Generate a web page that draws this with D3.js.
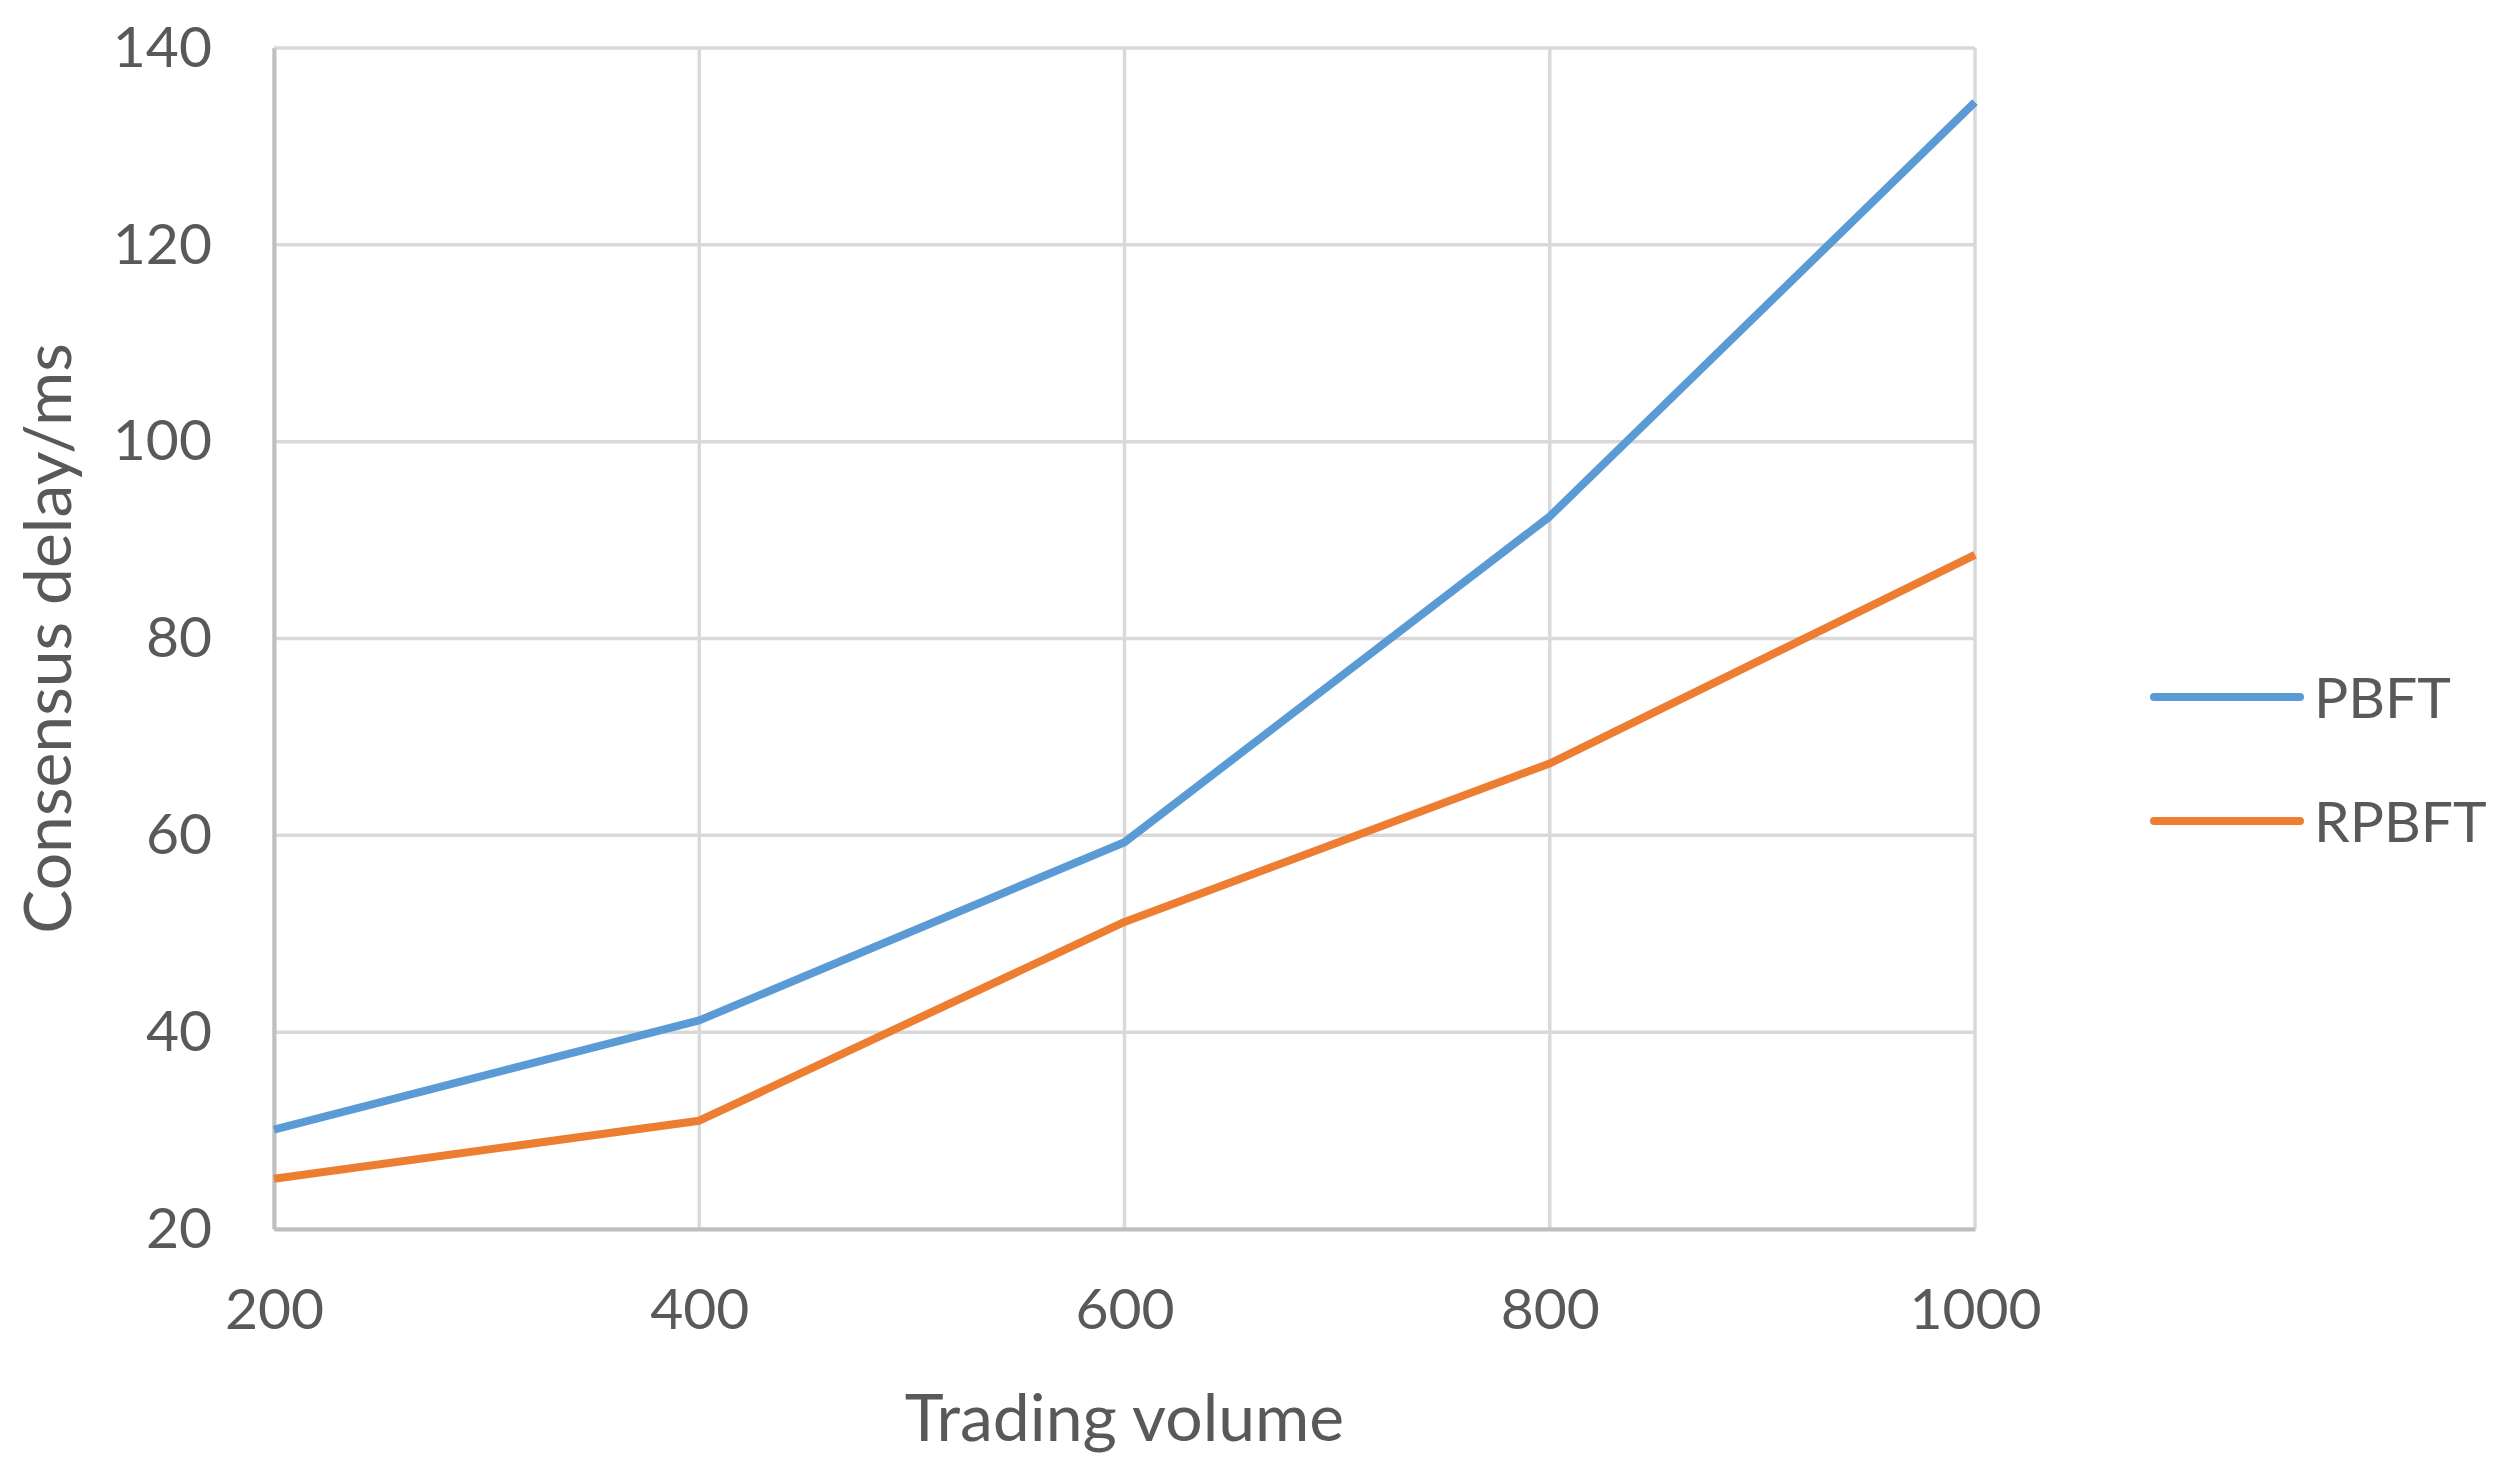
<!DOCTYPE html>
<html>
<head>
<meta charset="utf-8">
<script src="https://cdn.jsdelivr.net/npm/d3@7"></script>
<style>
  body { margin: 0; background: #fff; }
  text { font-family: Lato, "Open Sans", sans-serif; fill: #595959; }
</style>
</head>
<body>
<svg id="chart"></svg>
<script>
// Data
const volumes = [200, 400, 600, 800, 1000];
const pbft = [30.1, 41.2, 59.3, 92.4, 134.5];
const rpbft = [25.1, 31.0, 51.2, 67.3, 88.5];
const yTicks = [20, 40, 60, 80, 100, 120, 140];
const seriesNames = ["PBFT", "RPBFT"];
const seriesColors = ["#5B9BD5", "#ED7D31"];

const width = 2496;
const height = 1467;
const margin = { top: 48, right: 521, bottom: 238, left: 274 };

const svg = d3.select("#chart")
  .attr("width", width)
  .attr("height", height);

const xScale = d3.scaleLinear()
  .domain([200, 1000])
  .range([margin.left, width - margin.right]);

const yScale = d3.scaleLinear()
  .domain([20, 140])
  .range([height - margin.bottom, margin.top]);

// Gridlines
svg.append("g")
  .selectAll("line.hgrid")
  .data(yTicks)
  .join("line")
  .attr("x1", margin.left)
  .attr("x2", width - margin.right)
  .attr("y1", d => yScale(d))
  .attr("y2", d => yScale(d))
  .attr("stroke", "#d9d9d9")
  .attr("stroke-width", 3.5);

svg.append("g")
  .selectAll("line.vgrid")
  .data(volumes)
  .join("line")
  .attr("x1", d => xScale(d))
  .attr("x2", d => xScale(d))
  .attr("y1", margin.top)
  .attr("y2", height - margin.bottom)
  .attr("stroke", "#d9d9d9")
  .attr("stroke-width", 3.5);

// Axes
const xAxis = d3.axisBottom(xScale).tickValues(volumes).tickFormat(d3.format("d")).tickSize(0).tickPadding(60);
const yAxis = d3.axisLeft(yScale).tickValues(yTicks).tickSize(0).tickPadding(62);

const gx = svg.append("g")
  .attr("transform", `translate(0, ${height - margin.bottom})`)
  .call(xAxis);
gx.select(".domain").attr("stroke", "#bfbfbf").attr("stroke-width", 4);
gx.selectAll("text").style("font-size", "57px").attr("fill", "#595959");

const gy = svg.append("g")
  .attr("transform", `translate(${margin.left}, 0)`)
  .call(yAxis);
gy.select(".domain").attr("stroke", "#bfbfbf").attr("stroke-width", 4);
gy.selectAll("text").style("font-size", "57px").attr("fill", "#595959");

// Lines
const line = d3.line()
  .x((d, i) => xScale(volumes[i]))
  .y(d => yScale(d));

[pbft, rpbft].forEach((series, k) => {
  svg.append("path")
    .datum(series)
    .attr("fill", "none")
    .attr("stroke", seriesColors[k])
    .attr("stroke-width", 8)
    .attr("stroke-linejoin", "round")
    .attr("d", line);
});

// Axis titles
svg.append("text")
  .attr("x", (margin.left + width - margin.right) / 2)
  .attr("y", 1441)
  .attr("text-anchor", "middle")
  .style("font-size", "66px")
  .text("Trading volume");

svg.append("text")
  .attr("transform", `translate(71, ${(margin.top + height - margin.bottom) / 2}) rotate(-90)`)
  .attr("text-anchor", "middle")
  .style("font-size", "66px")
  .text("Consensus delay/ms");

// Legend
const legend = svg.append("g");
seriesNames.forEach((name, k) => {
  const y = 697 + k * 124;
  legend.append("line")
    .attr("x1", 2154)
    .attr("x2", 2300)
    .attr("y1", y)
    .attr("y2", y)
    .attr("stroke", seriesColors[k])
    .attr("stroke-width", 8)
    .attr("stroke-linecap", "round");
  legend.append("text")
    .attr("x", 2314)
    .attr("y", y)
    .attr("dy", "0.36em")
    .style("font-size", "57px")
    .text(name);
});
</script>
</body>
</html>
